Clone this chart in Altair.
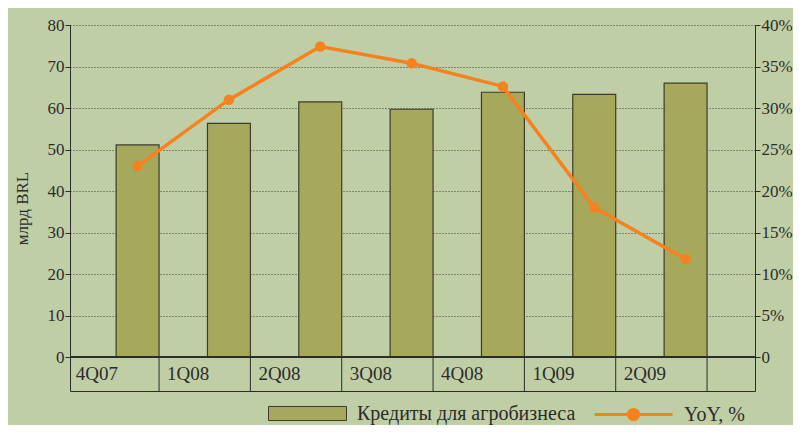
import altair as alt
import pandas as pd

# ---- data ----
quarters = ["4Q07", "1Q08", "2Q08", "3Q08", "4Q08", "1Q09", "2Q09"]
credits = [51.1, 56.3, 61.5, 59.7, 63.8, 63.3, 66.0]      # млрд BRL
yoy = [23.0, 31.0, 37.4, 35.4, 32.6, 18.0, 11.8]           # %
left_ticks = [0, 10, 20, 30, 40, 50, 60, 70, 80]
right_ticks = [0, 5, 10, 15, 20, 25, 30, 35, 40]
bar_label = "Кредиты для агробизнеса"
line_label = "YoY, %"
y_title = "млрд BRL"

# ---- styles ----
BG = "#c0cea6"
BAR = "#a6a95b"
BAR_STROKE = "#3c3c2e"
ORANGE = "#f5821f"
INK = "#2c2c2c"
FONT = "Liberation Serif"

df = pd.DataFrame({
    "q": quarters,
    "idx": list(range(len(quarters))),
    "credits": credits,
    "yoy": yoy,
    "bar_series": [bar_label] * len(quarters),
    "line_series": [line_label] * len(quarters),
})

HALF = 0.235          # half bar width in category units
TABLE_BOTTOM = -8.19  # bottom of the label table, left-axis units
x_scale = alt.Scale(domain=[-0.74, 6.76], nice=False, zero=False)
yl_scale = alt.Scale(domain=[TABLE_BOTTOM, 80], nice=False, zero=False)
yr_scale = alt.Scale(domain=[TABLE_BOTTOM / 2, 40], nice=False, zero=False)

x_axis = alt.Axis(title="", labels=False, ticks=False, grid=False, domain=True,
                  domainColor=INK, domainWidth=1)
left_axis = alt.Axis(values=left_ticks, title=y_title, grid=True, gridDash=[1, 2],
                     gridColor="#3a3a3a", gridWidth=1, tickSize=5, tickColor=INK,
                     domainColor=INK, labelPadding=1, labelFontSize=17,
                     labelFont=FONT, labelColor=INK, titleFont=FONT,
                     titleFontSize=17, titleFontWeight="normal", titleColor=INK,
                     titlePadding=16)
right_axis = alt.Axis(values=right_ticks, title="", grid=False, tickSize=5,
                      tickColor=INK, domainColor=INK, labelPadding=1,
                      labelFontSize=17, labelFont=FONT, labelColor=INK,
                      labelExpr="datum.value == 0 ? '0' : datum.value + '%'")

base = alt.Chart(df).transform_calculate(
    x0=f"datum.idx - {HALF}",
    x1=f"datum.idx + {HALF}",
    cell_left=f"datum.idx - 1 + {HALF}",
)

legend_common = dict(title="", orient="none", legendY=349, symbolSize=6084,
                     labelFont=FONT, labelFontSize=20, labelColor=INK,
                     labelOffset=10, labelLimit=400, padding=0)

bars = base.mark_rect(stroke=BAR_STROKE, strokeWidth=1.2).encode(
    x=alt.X("x0:Q", scale=x_scale, axis=x_axis),
    x2="x1:Q",
    y=alt.Y("credits:Q", scale=yl_scale, axis=left_axis),
    y2=alt.Y2Datum(0),
    fill=alt.Fill("bar_series:N", scale=alt.Scale(range=[BAR]),
                  legend=alt.Legend(legendX=198,
                                    symbolType="M-1,-0.18H1V0.18H-1Z",
                                    symbolStrokeColor=BAR_STROKE, symbolStrokeWidth=1,
                                    **legend_common)),
)

table_rules = base.mark_rule(color=INK, strokeWidth=1).encode(
    x=alt.X("x1:Q", scale=x_scale, axis=x_axis),
    y=alt.YDatum(0, scale=yl_scale, axis=left_axis),
    y2=alt.Y2Datum(TABLE_BOTTOM),
)

zero_rule = base.mark_rule(color=INK, strokeWidth=1).encode(
    y=alt.YDatum(0, scale=yl_scale, axis=left_axis),
)

cat_labels = base.mark_text(align="left", baseline="middle", dx=8, font=FONT,
                            fontSize=19, color=INK).encode(
    x=alt.X("cell_left:Q", scale=x_scale, axis=x_axis),
    y=alt.YDatum(TABLE_BOTTOM / 2, scale=yl_scale, axis=left_axis),
    text="q:N",
)

left_group = alt.layer(bars, table_rules, zero_rule, cat_labels)

line = base.mark_line(strokeWidth=3.5).encode(
    x=alt.X("idx:Q", scale=x_scale, axis=x_axis),
    y=alt.Y("yoy:Q", scale=yr_scale, axis=right_axis),
    stroke=alt.Stroke("line_series:N", scale=alt.Scale(range=[ORANGE]),
                      legend=alt.Legend(legendX=523,
                                        symbolType="M-1,0H1M-0.13,0A0.13,0.13,0,1,1,0.13,0A0.13,0.13,0,1,1,-0.13,0Z",
                                        symbolFillColor=ORANGE, symbolStrokeWidth=3,
                                        **legend_common)),
)

points = base.mark_circle(size=110, opacity=1, color=ORANGE).encode(
    x=alt.X("idx:Q", scale=x_scale, axis=x_axis),
    y=alt.Y("yoy:Q", scale=yr_scale, axis=right_axis),
)

right_group = alt.layer(line, points)

chart = alt.layer(left_group, right_group).resolve_scale(
    y="independent", fill="independent", stroke="independent"
).properties(
    width=685, height=366,
    padding={"left": 62, "top": 17, "right": 38, "bottom": 34},
    autosize=alt.AutoSizeParams(type="none"),
    background=BG,
).configure_view(stroke="transparent")

chart.save("out.html", embed_options={"renderer": "svg", "actions": False})
